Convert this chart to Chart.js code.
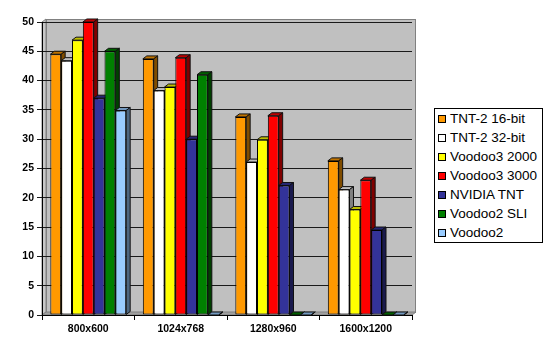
<!DOCTYPE html>
<html>
<head>
<meta charset="utf-8">
<script src="https://cdn.jsdelivr.net/npm/chart.js@4"></script>
<style>
  body { margin: 0; background: #fff; font-family: "Liberation Sans", Arial, sans-serif; }
  #wrap { position: relative; width: 550px; height: 352px; }
  canvas { display: block; }
  #legend {
    position: absolute; left: 434px; top: 108px; width: 104px;
    border: 1px solid #000; background: #fff; padding: 0 0 0 3px;
    font-size: 13.5px; line-height: 19px; color: #000; white-space: nowrap;
  }
  #legend span.box {
    display: inline-block; width: 6px; height: 6px; border: 1px solid #000;
    margin-right: 4px; vertical-align: 0;
  }
</style>
</head>
<body>
<div id="wrap">
  <canvas id="chart" width="550" height="352"></canvas>
  <div id="legend"></div>
</div>
<script>
// frames per second
const resolutions = ['800x600', '1024x768', '1280x960', '1600x1200'];
const tnt2_16 = [44.5, 43.7, 33.8, 26.3];
const tnt2_32 = [43.4, 38.3, 26.1, 21.4];
const voodoo3_2000 = [46.9, 38.9, 29.9, 18];
const voodoo3_3000 = [50, 43.9, 34, 23];
const nvidiaTnt = [37, 30, 22.1, 14.5];
const voodoo2Sli = [45, 41, 0, 0];
const voodoo2 = [34.9, 0, 0, 0];
const yTicks = [0, 5, 10, 15, 20, 25, 30, 35, 40, 45, 50];

const DX = 4, DY = 3;

function shade (hex, f) {
  const n = parseInt(hex.slice(1), 16);
  const r = Math.round(((n >> 16) & 255) * f);
  const g = Math.round(((n >> 8) & 255) * f);
  const b = Math.round((n & 255) * f);
  return 'rgb(' + r + ',' + g + ',' + b + ')';
}

// grey back wall, side wall and floor
const wall = {
  id: 'wall',
  beforeDraw (chart) {
    const { ctx, chartArea: a } = chart;
    ctx.save();
    ctx.lineWidth = 1;
    ctx.strokeStyle = '#808080';
    ctx.fillStyle = '#c0c0c0';
    ctx.fillRect(a.left + DX, a.top - DY, a.right - a.left, a.bottom - a.top);
    ctx.strokeRect(a.left + DX + 0.5, a.top - DY + 0.5, a.right - a.left - 1, a.bottom - a.top);
    ctx.fillStyle = '#c8c8c8';
    ctx.beginPath();
    ctx.moveTo(a.left, a.top);
    ctx.lineTo(a.left + DX, a.top - DY);
    ctx.lineTo(a.left + DX, a.bottom - DY);
    ctx.lineTo(a.left, a.bottom);
    ctx.closePath();
    ctx.fill();
    ctx.stroke();
    ctx.fillStyle = '#a0a0a0';
    ctx.beginPath();
    ctx.moveTo(a.left, a.bottom);
    ctx.lineTo(a.left + DX, a.bottom - DY);
    ctx.lineTo(a.right + DX, a.bottom - DY);
    ctx.lineTo(a.right, a.bottom);
    ctx.closePath();
    ctx.fill();
    ctx.stroke();
    ctx.restore();
  }
};

// top and side faces, so the bars look like the old Excel 3D columns
const depth = {
  id: 'depth',
  beforeDatasetsDraw (chart) {
    const ctx = chart.ctx;
    ctx.save();
    ctx.lineWidth = 1;
    ctx.strokeStyle = '#111';
    chart.data.datasets.forEach((ds, i) => {
      chart.getDatasetMeta(i).data.forEach(bar => {
        const l = bar.x - bar.width / 2;
        const r = bar.x + bar.width / 2;
        const t = bar.y;
        const b = bar.base;
        ctx.fillStyle = shade(ds.backgroundColor, 0.75);
        ctx.beginPath();
        ctx.moveTo(l, t);
        ctx.lineTo(l + DX, t - DY);
        ctx.lineTo(r + DX, t - DY);
        ctx.lineTo(r, t);
        ctx.closePath();
        ctx.fill();
        ctx.stroke();
        ctx.fillStyle = shade(ds.backgroundColor, 0.5);
        ctx.beginPath();
        ctx.moveTo(r, t);
        ctx.lineTo(r + DX, t - DY);
        ctx.lineTo(r + DX, b - DY);
        ctx.lineTo(r, b);
        ctx.closePath();
        ctx.fill();
        ctx.stroke();
      });
    });
    ctx.restore();
  }
};

function series (label, data, color) {
  return {
    label: label,
    data: data,
    backgroundColor: color,
    borderColor: '#000',
    borderWidth: 1,
    borderSkipped: false,
    categoryPercentage: 0.82,
    barPercentage: 1
  };
}

Chart.defaults.font.family = '"Liberation Sans", Arial, sans-serif';
Chart.defaults.color = '#000';

const chart = new Chart(document.getElementById('chart'), {
  type: 'bar',
  data: {
    labels: resolutions,
    datasets: [
      series('TNT-2 16-bit', tnt2_16, '#ff9900'),
      series('TNT-2 32-bit', tnt2_32, '#ffffff'),
      series('Voodoo3 2000', voodoo3_2000, '#ffff00'),
      series('Voodoo3 3000', voodoo3_3000, '#ff0000'),
      series('NVIDIA TNT', nvidiaTnt, '#333399'),
      series('Voodoo2 SLI', voodoo2Sli, '#008000'),
      series('Voodoo2', voodoo2, '#99ccff')
    ]
  },
  options: {
    responsive: false,
    animation: false,
    layout: {
      padding: { top: 22, right: 138, bottom: 10, left: 12 }
    },
    plugins: {
      legend: { display: false },
      tooltip: { enabled: false }
    },
    scales: {
      x: {
        afterFit (scale) { scale.height = 27; },
        grid: {
          offset: true,
          drawOnChartArea: false,
          color: '#000',
          tickLength: 5
        },
        border: { color: '#000' },
        ticks: {
          font: { size: 10.5, weight: 'bold' },
          padding: 3
        }
      },
      y: {
        min: 0,
        max: 50,
        afterBuildTicks (scale) {
          scale.ticks = yTicks.map(v => ({ value: v }));
        },
        afterFit (scale) { scale.width = 30; },
        grid: {
          color: '#1a1a1a',
          tickLength: 5
        },
        border: { color: '#000' },
        ticks: {
          font: { size: 10.5, weight: 'bold' },
          padding: 3
        }
      }
    }
  },
  plugins: [wall, depth]
});

// legend as html, built from the datasets
document.getElementById('legend').innerHTML = chart.data.datasets.map(ds =>
  '<div><span class="box" style="background:' + ds.backgroundColor + '"></span>' + ds.label + '</div>'
).join('');
</script>
</body>
</html>
